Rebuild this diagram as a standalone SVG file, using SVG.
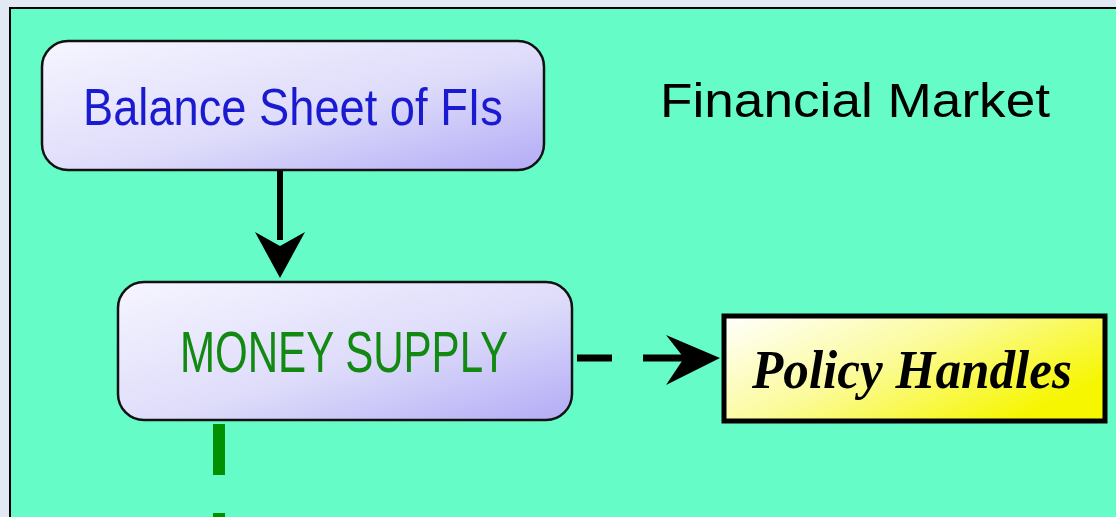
<svg xmlns="http://www.w3.org/2000/svg" width="1116" height="517" viewBox="0 0 1116 517">
<style>
.lav{stroke:#111;stroke-width:2.5;fill:url(#lavg)}
.sans{font-family:"Liberation Sans",Arial,sans-serif}
</style>
<defs>
<linearGradient id="lavg" x1="0" y1="0" x2="1" y2="1">
<stop offset="0" stop-color="#f6f5ff"/>
<stop offset="0.55" stop-color="#dedcfa"/>
<stop offset="1" stop-color="#b3acf6"/>
</linearGradient>
<linearGradient id="yelg" x1="0" y1="0" x2="1" y2="0.6">
<stop offset="0" stop-color="#ffffff"/>
<stop offset="0.5" stop-color="#fbfb9a"/>
<stop offset="1" stop-color="#f6f600"/>
</linearGradient>
</defs>
<rect width="1116" height="517" fill="#e3e8f5"/>
<rect x="10" y="8" width="1110" height="515" fill="#66fcc8" stroke="#000" stroke-width="2"/>
<g id="connectors">
<line x1="280" y1="170" x2="280" y2="240" stroke="#000" stroke-width="6"/>
<path d="M255,232 L280,278 L305,232 L280,246 Z" fill="#000"/>
<line x1="577" y1="358" x2="612" y2="358" stroke="#000" stroke-width="7"/>
<line x1="643" y1="358" x2="690" y2="358" stroke="#000" stroke-width="7"/>
<path d="M666,335 L720,358 L666,385 L684,358 Z" fill="#000"/>
<line x1="219" y1="424" x2="219" y2="517" stroke="#009000" stroke-width="12" stroke-dasharray="51 38"/>
</g>
<g id="balance">
<rect x="42" y="41" width="502" height="129" rx="26" class="lav"/>
<text x="293" y="125" text-anchor="middle" class="sans" font-size="52" fill="#1a1ad0" textLength="420" lengthAdjust="spacingAndGlyphs">Balance Sheet of FIs</text>
</g>
<g id="financial">
<text x="660" y="117" class="sans" font-size="48" fill="#000" textLength="390" lengthAdjust="spacingAndGlyphs">Financial Market</text>
</g>
<g id="money">
<rect x="118" y="282" width="454" height="138" rx="26" class="lav"/>
<text x="344" y="372" text-anchor="middle" class="sans" font-size="58" fill="#128a12" textLength="328" lengthAdjust="spacingAndGlyphs">MONEY SUPPLY</text>
</g>
<g id="policy">
<rect x="724" y="316" width="381" height="105" fill="url(#yelg)" stroke="#000" stroke-width="5"/>
<text x="912" y="388" text-anchor="middle" font-family="'Liberation Serif','Times New Roman',serif" font-style="italic" font-weight="bold" font-size="55" fill="#000" textLength="320" lengthAdjust="spacingAndGlyphs">Policy Handles</text>
</g>
</svg>
